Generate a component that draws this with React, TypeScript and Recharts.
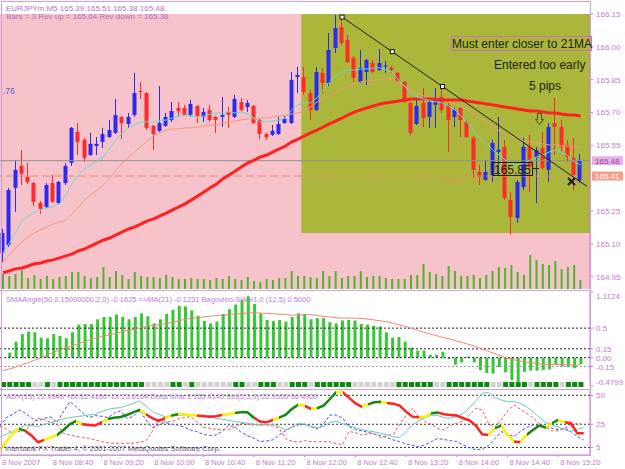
import React from "react";
import {
  ComposedChart,
  Bar,
  Line,
  XAxis,
  YAxis,
  CartesianGrid,
  ReferenceArea,
  ReferenceLine,
  ReferenceDot,
} from "recharts";

const W = 625;
const AXIS_W = 35;
const LILAC = "#c47ccf";
const FONT = "'Liberation Sans', Arial, sans-serif";

// EURJPYm M5, 8 Nov 2007 from 08:00 (93 bars, last slot left empty like the terminal's shift)
const openP = [165.059,165.095,165.356,165.456,165.406,165.378,165.287,165.269,165.378,165.287,
  165.378,165.470,165.611,165.575,165.506,165.547,165.566,165.588,165.607,165.680,
  165.648,165.689,165.798,165.789,165.639,165.616,165.639,165.666,165.721,165.721,
  165.689,165.730,165.680,165.712,165.680,165.680,165.703,165.680,165.748,165.725,
  165.730,165.666,165.602,165.598,165.602,165.652,165.652,165.862,165.862,165.789,
  165.712,165.881,165.835,165.995,166.091,166.031,165.949,165.840,165.885,165.926,
  165.894,165.913,165.904,165.881,165.840,165.744,165.648,165.744,165.680,165.735,
  165.771,165.735,165.680,165.721,165.657,165.584,165.429,165.392,165.415,165.520,
  165.543,165.301,165.219,165.360,165.543,165.493,165.538,165.438,165.652,165.634,
  165.552,165.493,165.390];
const highP = [165.168,165.356,165.483,165.529,165.470,165.383,165.296,165.378,165.415,165.388,
  165.470,165.634,165.652,165.584,165.607,165.588,165.630,165.666,165.762,165.684,
  165.698,165.881,165.840,165.794,165.643,165.821,165.698,165.748,165.748,165.735,
  165.757,165.735,165.721,165.735,165.684,165.771,165.725,165.780,165.767,165.757,
  165.735,165.671,165.607,165.643,165.680,165.684,165.885,165.908,165.908,165.803,
  165.908,165.904,166.063,166.146,166.136,166.054,165.958,165.986,165.945,165.940,
  165.990,165.935,165.913,165.885,165.844,165.748,165.757,165.812,165.757,165.812,
  165.817,165.744,165.721,165.725,165.666,165.593,165.461,165.483,165.575,165.680,
  165.575,165.337,165.392,165.584,165.598,165.543,165.611,165.652,165.767,165.666,
  165.575,165.584,165.510];
const lowP = [165.018,165.086,165.246,165.369,165.374,165.273,165.237,165.264,165.287,165.283,
  165.369,165.456,165.506,165.474,165.502,165.506,165.538,165.584,165.602,165.579,
  165.630,165.680,165.762,165.620,165.529,165.611,165.634,165.657,165.680,165.684,
  165.680,165.652,165.657,165.657,165.607,165.634,165.630,165.675,165.703,165.703,
  165.648,165.579,165.575,165.593,165.598,165.648,165.648,165.789,165.780,165.666,
  165.707,165.789,165.821,165.972,166.009,165.926,165.840,165.835,165.826,165.881,
  165.890,165.881,165.880,165.840,165.744,165.598,165.643,165.634,165.630,165.630,
  165.698,165.520,165.634,165.588,165.584,165.401,165.369,165.388,165.383,165.415,
  165.301,165.141,165.196,165.346,165.337,165.287,165.438,165.383,165.506,165.520,
  165.474,165.346,165.380];
const closeP = [165.150,165.346,165.438,165.420,165.383,165.292,165.260,165.369,165.292,165.383,
  165.456,165.630,165.566,165.493,165.557,165.557,165.602,165.620,165.689,165.652,
  165.680,165.789,165.794,165.630,165.602,165.652,165.680,165.707,165.707,165.689,
  165.739,165.684,165.703,165.666,165.666,165.689,165.689,165.762,165.712,165.744,
  165.652,165.602,165.588,165.616,165.648,165.671,165.849,165.872,165.794,165.712,
  165.885,165.835,165.986,166.086,166.018,165.931,165.858,165.904,165.940,165.885,
  165.926,165.915,165.895,165.844,165.748,165.607,165.730,165.675,165.748,165.757,
  165.712,165.666,165.712,165.666,165.588,165.438,165.406,165.429,165.561,165.530,
  165.310,165.223,165.383,165.543,165.452,165.529,165.447,165.634,165.634,165.543,
  165.497,165.415,165.480];
const volume = [75,65,75,95,55,70,50,65,50,60, 65,85,85,65,55,60,110,60,90,70,
  50,85,65,60,60,55,70,60,50,50, 55,50,50,45,55,50,65,50,45,60,
  40,35,50,45,55,55,90,65,65,60, 55,90,65,90,55,65,65,90,60,65,
  65,55,50,50,50,70,70,125,85,75, 65,115,90,65,65,70,55,70,90,110,
  105,120,85,70,170,145,125,120,140,100, 110,120,45];

// moving averages on price
const ma21 = [164.968,164.977,164.986,164.990,164.999,165.009,165.013,165.022,165.027,165.036,
  165.045,165.054,165.068,165.077,165.091,165.105,165.118,165.127,165.141,165.155,
  165.168,165.178,165.191,165.205,165.214,165.228,165.241,165.255,165.269,165.283,
  165.301,165.319,165.337,165.356,165.374,165.397,165.415,165.433,165.452,165.470,
  165.483,165.497,165.506,165.520,165.534,165.547,165.566,165.579,165.593,165.607,
  165.620,165.634,165.648,165.662,165.675,165.689,165.703,165.712,165.721,165.730,
  165.739,165.744,165.748,165.753,165.757,165.762,165.762,165.762,165.762,165.760,
  165.757,165.757,165.757,165.757,165.753,165.748,165.744,165.739,165.735,165.730,
  165.725,165.721,165.716,165.712,165.707,165.707,165.703,165.698,165.698,165.693,
  165.689,165.689,165.684];
const maSlow = [165.018,165.050,165.082,165.109,165.132,165.150,165.164,165.178,165.191,165.200,
  165.209,165.237,165.269,165.301,165.324,165.346,165.369,165.401,165.438,165.470,
  165.497,165.520,165.547,165.570,165.593,165.607,165.620,165.625,165.625,165.630,
  165.630,165.634,165.639,165.643,165.643,165.652,165.657,165.662,165.666,165.671,
  165.671,165.675,165.675,165.680,165.684,165.689,165.693,165.698,165.707,165.725,
  165.748,165.762,165.776,165.789,165.808,165.821,165.830,165.840,165.844,165.849,
  165.849,165.853,165.858,165.835,165.821,165.803,165.789,165.776,165.771,165.762,
  165.757,165.748,165.739,165.725,165.712,165.693,165.675,165.662,165.639,165.616,
  165.602,165.593,165.579,165.570,165.566,165.561,165.557,165.552,165.552,165.547,
  165.547,165.543,165.543];
const maFast = [165.059,165.105,165.155,165.205,165.228,165.246,165.255,165.264,165.273,165.283,
  165.324,165.378,165.415,165.442,165.461,165.479,165.497,165.538,165.575,165.607,
  165.630,165.648,165.657,165.657,165.657,165.662,165.666,165.675,165.684,165.689,
  165.684,165.680,165.684,165.693,165.698,165.698,165.703,165.698,165.703,165.693,
  165.675,165.657,165.657,165.662,165.666,165.675,165.712,165.735,165.744,165.744,
  165.767,165.803,165.840,165.867,165.890,165.894,165.894,165.899,165.899,165.904,
  165.904,165.894,165.885,165.849,165.817,165.789,165.771,165.762,165.753,165.748,
  165.744,165.730,165.712,165.684,165.652,165.616,165.584,165.557,165.529,165.506,
  165.483,165.465,165.456,165.470,165.483,165.497,165.506,165.520,165.529,165.520,
  165.502,165.474,165.461];

// SMAAngle histogram, its MA(21), Bagovino-SW state
const angle = [0.0,0.085,0.27,0.40,0.44,0.43,0.34,0.33,0.40,0.37,
  0.33,0.43,0.56,0.57,0.57,0.65,0.69,0.69,0.73,0.69,
  0.65,0.69,0.75,0.70,0.58,0.65,0.74,0.81,0.88,0.87,
  0.80,0.71,0.62,0.58,0.61,0.74,0.82,0.90,0.98,1.04,
  0.91,0.75,0.64,0.62,0.64,0.61,0.69,0.75,0.74,0.65,
  0.67,0.67,0.60,0.58,0.63,0.64,0.63,0.57,0.56,0.54,
  0.53,0.43,0.34,0.35,0.27,0.17,0.12,0.12,0.05,0.05,
  0.10,-0.02,-0.12,-0.08,0.02,-0.08,-0.21,-0.26,-0.27,-0.16,
  -0.25,-0.38,-0.41,-0.24,-0.22,-0.22,-0.21,-0.20,-0.12,-0.15,
  -0.16,-0.18,-0.11];
const angleMa = [-0.22,-0.19,-0.16,-0.12,-0.085,-0.045,-0.005,0.045,0.09,0.13,
  0.17,0.20,0.24,0.27,0.31,0.34,0.36,0.39,0.41,0.44,
  0.47,0.48,0.51,0.53,0.55,0.56,0.58,0.60,0.625,0.65,
  0.665,0.68,0.69,0.70,0.715,0.72,0.73,0.74,0.745,0.755,
  0.76,0.755,0.75,0.745,0.735,0.73,0.72,0.72,0.73,0.73,
  0.715,0.70,0.69,0.675,0.67,0.67,0.67,0.665,0.655,0.64,
  0.625,0.61,0.585,0.56,0.535,0.50,0.465,0.43,0.40,0.375,
  0.345,0.32,0.29,0.26,0.23,0.20,0.16,0.12,0.08,0.04,
  0.00,-0.03,-0.05,-0.07,-0.085,-0.10,-0.11,-0.115,-0.115,-0.12,
  -0.12,-0.125,-0.1231];
const swState = [1,1,1,1,1,0,0,1,0,1, 1,1,1,1,1,1,1,1,1,1,
  1,1,1,0,0,0,0,1,1,0, 1,0,0,0,0,0,0,1,1,0,
  0,1,1,1,0,0,1,1,1,0, 1,1,1,1,1,1,0,0,0,0,
  0,0,0,1,1,1,1,1,1,0, 0,1,1,1,1,1,1,1,0,0,
  1,1,1,1,0,1,1,1,1,0, 1,1,1];

// ADX window
const adx = [2.9,10.1,17.2,21.0,19.3,15.2,9.5,11.5,13.8,15.8,
  20.1,25.0,27.9,25.0,24.4,23.9,26.7,29.6,30.7,31.3,
  33.0,35.3,37.4,33.6,30.2,27.9,30.2,32.5,33.6,33.6,
  33.0,32.5,32.2,31.6,31.9,33.0,33.6,34.8,35.3,35.3,
  30.7,27.3,26.7,28.7,30.7,33.0,38.2,41.7,41.1,38.2,
  38.8,41.1,46.8,52.6,52.6,48.0,43.1,40.2,42.2,44.0,
  44.5,43.4,42.8,41.1,35.9,31.6,31.0,31.6,34.5,35.1,
  33.6,33.0,32.5,30.2,28.4,23.9,16.4,15.8,21.6,23.9,
  15.8,10.1,9.5,15.8,20.1,23.9,22.1,25.9,28.7,26.7,
  25.9,17.2,17.2];
const adxTone = "yyygrrryygggyrrryggggg yrrryg yyyrrrryygggrrry gggyry gggyrrryggy rrrrryyg rrrrrrrryg yyryggg ygyrrry"
  .replace(/ /g, "")
  .split("");
const stoLine = [14.1,16.4,18.7,21.6,24.4,23.9,23.0,25.0,26.4,27.9,
  29.9,30.7,31.6,32.2,33.0,33.6,35.9,37.9,38.8,39.4,
  41.1,43.1,45.1,41.1,35.9,33.6,31.6,32.2,32.5,32.8,
  33.0,32.8,31.9,31.3,30.2,29.3,28.4,27.3,26.7,25.9,
  25.0,24.4,24.7,25.0,23.0,20.1,22.1,25.9,25.0,23.0,
  22.1,23.0,26.7,27.3,25.6,23.6,22.1,20.4,19.3,18.4,
  17.2,15.8,14.4,13.5,18.7,24.4,27.9,30.7,33.0,32.5,
  30.7,30.2,31.9,34.2,39.4,45.1,51.7,52.6,48.0,46.0,
  44.5,44.5,43.1,40.2,35.9,31.0,26.7,24.4,22.7,20.1,
  18.7,20.7,22.1];
const plusDi = [23.0,30.7,33.6,37.4,34.5,30.2,27.9,30.2,31.3,26.7,
  35.9,44.5,40.2,35.3,30.7,32.5,31.9,30.7,34.5,36.5,
  30.2,31.6,37.4,28.7,22.1,24.4,26.7,25.0,24.4,22.7,
  20.1,18.7,16.4,15.2,15.8,18.7,23.9,23.0,18.1,15.2,
  12.9,10.1,10.6,11.5,15.8,19.3,23.0,24.4,25.0,23.0,
  21.0,25.0,33.0,33.0,30.2,23.0,20.7,19.3,18.1,16.4,
  15.2,13.5,11.5,10.1,8.0,6.9,5.7,7.2,10.1,12.9,
  11.8,10.9,10.1,7.2,4.9,2.9,3.7,6.6,12.4,18.7,
  16.4,14.4,18.7,22.1,24.4,23.9,23.0,21.6,20.4,21.6,
  18.7,14.4,11.5];
const minusDi = [23.9,21.0,17.2,18.7,20.1,25.0,30.2,28.7,26.7,25.0,
  17.2,15.8,14.4,13.8,12.9,11.5,10.1,9.2,8.6,8.6,
  8.6,8.6,9.5,10.6,18.7,29.6,27.3,27.3,29.6,30.7,
  31.6,27.3,22.4,21.6,20.7,20.1,20.7,22.1,25.9,25.0,
  24.4,24.4,24.4,23.6,21.6,12.4,10.6,9.5,10.9,10.1,
  9.8,10.1,9.8,8.3,7.5,18.7,17.8,15.8,16.7,17.0,
  13.5,15.2,16.4,25.0,32.5,38.8,31.6,27.3,25.0,21.0,
  20.1,23.9,25.9,27.9,33.0,38.8,37.4,25.9,22.1,28.7,
  36.5,41.7,38.2,34.5,30.7,25.9,22.1,19.3,19.3,21.6,
  23.9,25.9,24.4];

const tickTimes = ["08:00","08:40","09:20","10:00","10:40","11:20","12:00","12:40","13:20","14:00","14:40","15:20"];
const tickLabels = ["8 Nov 2007","8 Nov 08:40","8 Nov 09:20","8 Nov 10:00","8 Nov 10:40","8 Nov 11:20",
  "8 Nov 12:00","8 Nov 12:40","8 Nov 13:20","8 Nov 14:00","8 Nov 14:40","8 Nov 15:20"];
const priceTicks = [164.95, 165.1, 165.25, 165.55, 165.7, 165.85, 166.0, 166.15];
const angleTicks = [1.1124, 0.5, 0.15, 0, -0.15, -0.4799];
const angleTickText = ["1.1124", "0.5", "0.15", "0.00", "-0.15", "-0.4799"];
const adxTicks = [5, 25, 50];

// trendline drawn on the chart (time, price)
const trendTimes = ["12:30", "15:45"];
const trendPrices = [166.136, 165.363];
const knotTimes = ["12:30", "13:10", "13:50"];
const knotPrices = [166.136, 165.978, 165.819];

const SLOTS = openP.length + 1;
const times = Array.from({ length: SLOTS }, (_, i) => {
  const m = 8 * 60 + 5 * i;
  return `${String(Math.floor(m / 60)).padStart(2, "0")}:${String(m % 60).padStart(2, "0")}`;
});

const rows = times.map((t, i) => ({
  t,
  o: openP[i] ?? null,
  h: highP[i] ?? null,
  l: lowP[i] ?? null,
  c: closeP[i] ?? null,
  range: i < openP.length ? [lowP[i], highP[i]] : null,
  vol: volume[i] ?? null,
  ma21: ma21[i] ?? null,
  maSlow: maSlow[i] ?? null,
  maFast: maFast[i] ?? null,
  angle: angle[i] ?? null,
  angleMa: angleMa[i] ?? null,
  sw: swState[i] ?? null,
  adx: adx[i] ?? null,
  sto: stoLine[i] ?? null,
  plusDi: plusDi[i] ?? null,
  minusDi: minusDi[i] ?? null,
}));

const toneColor: Record<string, string> = { g: "#128a12", r: "#ff2222", y: "#ffee00" };

function Candle(props: any) {
  const { x, y, width, height, payload } = props;
  if (!payload || payload.h == null || !height) return null;
  const { o, h, l, c } = payload;
  const k = height / (h - l);
  const py = (v: number) => y + (h - v) * k;
  const cx = Math.floor(x + width / 2);
  const color = c >= o ? "#2a2af2" : "#ff2b2b";
  const top = py(Math.max(o, c));
  const bh = Math.max(1, py(Math.min(o, c)) - top);
  return (
    <g>
      <rect x={cx - 1} y={y} width={1} height={height} fill={color} />
      <rect x={cx - 2.5} y={top} width={4} height={bh} fill={color} />
    </g>
  );
}

function SwSquare(props: any) {
  const { x, y, width, height, payload } = props;
  if (!payload || payload.sw == null) return null;
  return <rect x={x} y={y} width={width} height={height} fill={payload.sw ? "#0c880c" : "#d2d2d2"} />;
}

function Knot(props: any) {
  const { cx, cy } = props;
  return <rect x={cx - 2} y={cy - 2} width={4} height={4} fill="#fff" stroke="#111" strokeWidth={1} />;
}

const priceTag = (bg: string, fg: string, text: string) => (props: any) => {
  const vb = props.viewBox || {};
  const x = (vb.x ?? 0) + (vb.width ?? 0) + 2;
  const y = vb.y ?? 0;
  return (
    <g>
      <rect x={x} y={y - 4.5} width={31} height={9} fill={bg} />
      <text x={x + 3} y={y + 3} fontSize={8} fontFamily={FONT} fill={fg}>{text}</text>
    </g>
  );
};

function AngleTick(props: any) {
  const { x, y, payload } = props;
  const i = angleTicks.indexOf(payload.value);
  let ty = y + 3;
  if (payload.value > 1) ty = y + 7;
  if (payload.value < -0.4) ty = y - 1;
  return (
    <text x={x} y={ty} fontSize={8} fontFamily={FONT} fill={LILAC}>{angleTickText[i]}</text>
  );
}

function TimeTick(props: any) {
  const { x, y, payload } = props;
  const i = tickTimes.indexOf(payload.value);
  return (
    <text x={x + 2} y={y + 6} fontSize={7.5} fontFamily={FONT} fill={LILAC}>{tickLabels[i]}</text>
  );
}

function PriceChart() {
  return (
    <ComposedChart width={W} height={291} data={rows} margin={{ top: 14, right: 0, bottom: 2, left: 0 }}>
      <CartesianGrid horizontal={false} vertical={false} fill="#f6c3cb" stroke="none" />
      <XAxis dataKey="t" hide />
      <XAxis dataKey="t" xAxisId="v" hide />
      <YAxis
        orientation="right"
        width={AXIS_W}
        domain={[164.894, 166.15]}
        allowDataOverflow
        ticks={priceTicks}
        interval={0}
        tickFormatter={(v: number) => v.toFixed(2)}
        tick={{ fill: LILAC, fontSize: 8, fontFamily: FONT }}
        tickSize={3}
        tickMargin={3}
        tickLine={{ stroke: LILAC }}
        axisLine={{ stroke: LILAC }}
      />
      <YAxis yAxisId="vol" hide domain={[0, 1375]} />
      <ReferenceArea x1="12:00" x2="15:45" y1={165.15} y2={166.15} fill="#abb73a" fillOpacity={1} stroke="none" ifOverflow="visible" />
      <Bar xAxisId="v" yAxisId="vol" dataKey="vol" barSize={2} fill="#4db62b" isAnimationActive={false} />
      <ReferenceLine y={165.48} stroke="#8f8f8f" label={priceTag("#e3b3e3", "#9b3fa6", "165.48")} />
      <ReferenceLine y={165.41} stroke="#f08868" strokeDasharray="8 4" label={priceTag("#f3a089", "#ffffff", "165.41")} />
      <Bar dataKey="range" barSize={5} shape={Candle} isAnimationActive={false} />
      <Line dataKey="maSlow" stroke="#f4967c" strokeWidth={1} dot={false} isAnimationActive={false} />
      <Line dataKey="ma21" stroke="#ff2020" strokeWidth={3} dot={false} isAnimationActive={false} />
      <Line dataKey="maFast" stroke="#6ad9d2" strokeWidth={1} dot={false} isAnimationActive={false} />
      <ReferenceLine
        segment={[
          { x: trendTimes[0], y: trendPrices[0] },
          { x: trendTimes[1], y: trendPrices[1] },
        ]}
        stroke="#1c1c1c"
        ifOverflow="visible"
      />
      {knotTimes.map((t, i) => (
        <ReferenceDot key={t} x={t} y={knotPrices[i]} r={2} shape={Knot} ifOverflow="visible" />
      ))}
    </ComposedChart>
  );
}

function AngleChart() {
  return (
    <ComposedChart width={W} height={100} data={rows} margin={{ top: 2, right: 0, bottom: 4, left: 0 }}>
      <XAxis dataKey="t" hide />
      <YAxis
        orientation="right"
        width={AXIS_W}
        domain={[-0.4799, 1.1124]}
        allowDataOverflow
        ticks={angleTicks}
        interval={0}
        tick={AngleTick}
        tickSize={3}
        tickMargin={3}
        tickLine={{ stroke: LILAC }}
        axisLine={{ stroke: LILAC }}
      />
      <ReferenceLine y={0.5} stroke="#222" strokeDasharray="2 2" />
      <ReferenceLine y={0.15} stroke="#222" strokeDasharray="2 2" />
      <ReferenceLine y={0} stroke="#222" strokeDasharray="2 2" />
      <ReferenceLine y={-0.15} stroke="#999" strokeDasharray="2 2" />
      <Bar dataKey="angle" barSize={3} fill="#36c636" isAnimationActive={false} />
      <Line dataKey="angleMa" stroke="#f08474" strokeWidth={1} dot={false} isAnimationActive={false} />
    </ComposedChart>
  );
}

function SwRow() {
  return (
    <ComposedChart width={W} height={5} data={rows} margin={{ top: 0, right: AXIS_W, bottom: 0, left: 0 }}>
      <XAxis dataKey="t" hide />
      <YAxis hide domain={[0, 1]} />
      <Bar dataKey={(d: any) => (d.sw == null ? null : 1)} barSize={5} shape={SwSquare} isAnimationActive={false} />
    </ComposedChart>
  );
}

function AdxChart() {
  const last = adx.length - 1;
  const stops: React.ReactElement[] = [];
  for (let i = 0; i < last; i++) {
    const col = toneColor[adxTone[i]] || toneColor.r;
    stops.push(<stop key={`a${i}`} offset={i / last} stopColor={col} />);
    stops.push(<stop key={`b${i}`} offset={(i + 1) / last} stopColor={col} />);
  }
  return (
    <ComposedChart width={W} height={80} data={rows} margin={{ top: 2, right: 0, bottom: 0, left: 0 }}>
      <defs>
        <linearGradient id="adxTone" x1="0" y1="0" x2="1" y2="0">
          {stops}
        </linearGradient>
      </defs>
      <XAxis
        dataKey="t"
        height={14}
        ticks={tickTimes}
        interval={0}
        tick={TimeTick}
        tickSize={2}
        tickMargin={2}
        tickLine={{ stroke: LILAC }}
        axisLine={{ stroke: LILAC }}
      />
      <YAxis
        orientation="right"
        width={AXIS_W}
        domain={[-1.5, 53.7]}
        allowDataOverflow
        ticks={adxTicks}
        interval={0}
        tick={{ fill: LILAC, fontSize: 8, fontFamily: FONT }}
        tickSize={3}
        tickMargin={3}
        tickLine={{ stroke: LILAC }}
        axisLine={{ stroke: LILAC }}
      />
      <ReferenceLine y={50} stroke="#333" strokeDasharray="2 2" />
      <ReferenceLine y={25} stroke="#333" strokeDasharray="2 2" />
      <ReferenceLine y={5} stroke="#333" strokeDasharray="2 2" />
      <Line dataKey="plusDi" stroke="#4b4bf2" strokeWidth={1} strokeDasharray="3 2" dot={false} isAnimationActive={false} />
      <Line dataKey="minusDi" stroke="#f25a5a" strokeWidth={1} strokeDasharray="3 2" dot={false} isAnimationActive={false} />
      <Line dataKey="sto" stroke="#6cc8bf" strokeWidth={1} dot={false} isAnimationActive={false} />
      <Line dataKey="adx" stroke="url(#adxTone)" strokeWidth={2.5} dot={false} isAnimationActive={false} />
    </ComposedChart>
  );
}

export default function App() {
  const txt = { fontFamily: FONT };
  return (
    <div style={{ position: "relative", width: W, height: 469, background: "#fff", overflow: "hidden" }}>
      <style>{"body{margin:0}"}</style>
      <div style={{ position: "absolute", left: 0, top: 0 }}>
        <PriceChart />
      </div>
      <div style={{ position: "absolute", left: 0, top: 290 }}>
        <AngleChart />
      </div>
      <div style={{ position: "absolute", left: 0, top: 382 }}>
        <SwRow />
      </div>
      <div style={{ position: "absolute", left: 0, top: 389 }}>
        <AdxChart />
      </div>
      <svg width={W} height={469} style={{ position: "absolute", left: 0, top: 0, pointerEvents: "none" }}>
        {/* window frames */}
        <rect x={1.5} y={1.5} width={589} height={454} fill="none" stroke="#cf9ede" />
        <line x1={0} y1={290.5} x2={590} y2={290.5} stroke="#cf9ede" />
        <line x1={0} y1={389.5} x2={590} y2={389.5} stroke="#cf9ede" />

        {/* headers */}
        <text x={6} y={10.5} fontSize={8} fill="#b36fc4" style={txt}>EURJPYm,M5  165.39 165.51 165.38 165.48</text>
        <text x={6} y={19} fontSize={8} fill="#b36fc4" style={txt}>Bars = 3 Rev up =  165.64 Rev down = 165.38</text>
        <text x={3} y={94} fontSize={8.5} fill="#5a62de" style={txt}>.76</text>
        <text x={6} y={302} fontSize={7.5} fill="#c07ad0" style={txt}>
          SMAAngle(50,0.15000000,2,0) -0.1625  =&gt;MA(21) -0.1231  Bagovino-SW v1.0 (12,5) 0.5000
        </text>
        <text x={6} y={398.5} fontSize={7.5} fill="#c07ad0" style={txt}>
          ADX(13) 22.4343 +DI:12.4100 -DI:23.6104 Delta bma 3 165.4140 Sto(5,3,3) 22.9500 36.4900
        </text>
        <text x={5} y={451} fontSize={7.5} fill="#6e4f80" style={txt}>
          Interbank FX Trader 4, © 2001-2007 MetaQuotes Software Corp.
        </text>

        {/* annotations */}
        <rect x={451.5} y={36.5} width={140} height={14} fill="none" stroke="#d06fb2" />
        <text x={452} y={48} fontSize={12} fill="#1e1e10" style={txt}>Must enter closer to 21MA</text>
        <text x={494} y={69} fontSize={12} fill="#1e1e10" style={txt}>Entered too early</text>
        <text x={529} y={89.5} fontSize={12} fill="#1e1e10" style={txt}>5 pips</text>
        <path d="M537.5,113.5 h4 v6 h2 l-4,5 l-4,-5 h2 z" fill="none" stroke="#4a4a1a" />
        <rect x={492.5} y={162.5} width={40} height={13} fill="none" stroke="#1e1e10" />
        <text x={494} y={174} fontSize={12} fill="#1e1e10" style={txt}>165.85</text>
        <line x1={532} y1={168.5} x2={539} y2={168.5} stroke="#1e1e10" />
        <text x={444} y={183} fontSize={8} fill="#f08a5a" style={txt}>Pivot</text>
        <path d="M568,178 L575,185 M575,178 L568,185" stroke="#1a1a1a" strokeWidth={2} />
      </svg>
    </div>
  );
}
